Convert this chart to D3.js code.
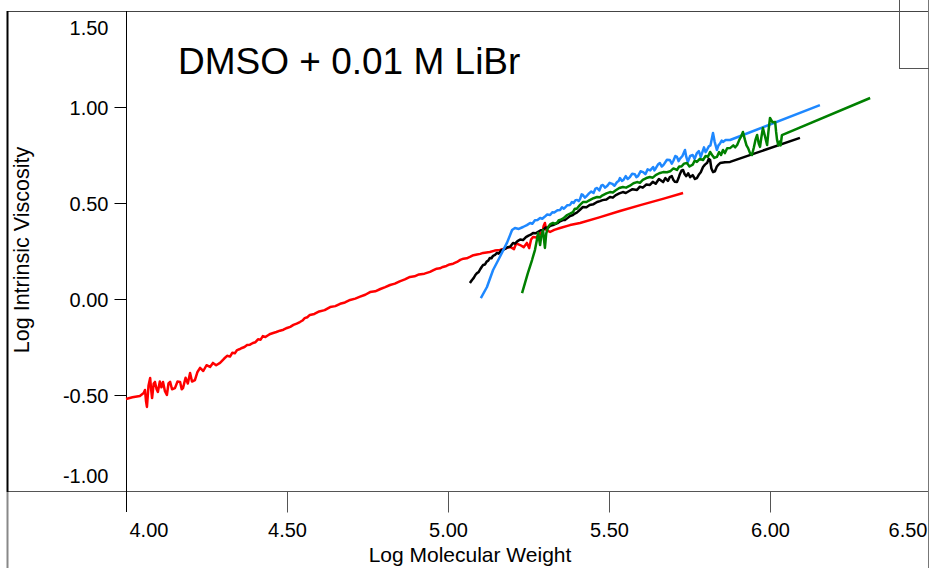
<!DOCTYPE html>
<meta charset="utf-8">
<style>
body { margin: 0; background: #fff; }
text { font-family: "Liberation Sans", Arial, sans-serif; fill: #000; }
</style>
<svg width="929" height="568"></svg>
<script src="https://cdn.jsdelivr.net/npm/d3@7/dist/d3.min.js"></script>
<script>
// Log MW vs Log [eta], four detectors / runs
var red = [[4.000,-0.521],[4.020,-0.512],[4.043,-0.505],[4.055,-0.49],[4.059,-0.474],[4.062,-0.53],[4.065,-0.562],[4.070,-0.45],[4.075,-0.411],[4.078,-0.47],[4.081,-0.516],[4.086,-0.44],[4.090,-0.432],[4.095,-0.47],[4.099,-0.484],[4.105,-0.43],[4.110,-0.46],[4.115,-0.432],[4.121,-0.48],[4.127,-0.50],[4.132,-0.44],[4.137,-0.432],[4.143,-0.47],[4.152,-0.464],[4.160,-0.43],[4.168,-0.432],[4.173,-0.47],[4.177,-0.464],[4.185,-0.41],[4.192,-0.44],[4.199,-0.385],[4.205,-0.43],[4.214,-0.422],[4.222,-0.38],[4.230,-0.359],[4.240,-0.375],[4.250,-0.345],[4.261,-0.354],[4.270,-0.333],[4.280,-0.345],[4.292,-0.333],[4.305,-0.31],[4.314,-0.296],[4.323,-0.30],[4.330,-0.28],[4.338,-0.283],[4.345,-0.266],[4.352,-0.262],[4.360,-0.255],[4.368,-0.25],[4.376,-0.240],[4.385,-0.238],[4.394,-0.229],[4.402,-0.225],[4.410,-0.21],[4.418,-0.212],[4.425,-0.193],[4.433,-0.198],[4.440,-0.19],[4.448,-0.182],[4.457,-0.177],[4.467,-0.172],[4.478,-0.165],[4.489,-0.16],[4.500,-0.151],[4.510,-0.145],[4.520,-0.135],[4.530,-0.128],[4.540,-0.120],[4.548,-0.112],[4.555,-0.10],[4.563,-0.095],[4.571,-0.083],[4.585,-0.078],[4.600,-0.065],[4.617,-0.058],[4.634,-0.042],[4.650,-0.037],[4.665,-0.025],[4.680,-0.018],[4.696,-0.005],[4.712,0.002],[4.727,0.012],[4.743,0.022],[4.758,0.036],[4.774,0.040],[4.790,0.052],[4.805,0.062],[4.820,0.073],[4.835,0.080],[4.850,0.092],[4.866,0.102],[4.882,0.115],[4.896,0.118],[4.910,0.128],[4.927,0.132],[4.944,0.141],[4.955,0.150],[4.965,0.158],[4.975,0.160],[4.984,0.167],[4.995,0.172],[5.005,0.18],[5.016,0.184],[5.028,0.193],[5.038,0.204],[5.048,0.21],[5.058,0.212],[5.068,0.219],[5.079,0.228],[5.090,0.232],[5.100,0.235],[5.109,0.240],[5.130,0.245],[5.145,0.252],[5.161,0.255],[5.175,0.262],[5.193,0.271],[5.205,0.26],[5.212,0.29],[5.224,0.281],[5.235,0.27],[5.245,0.292],[5.252,0.265],[5.258,0.31],[5.264,0.323],[5.275,0.32],[5.286,0.344],[5.292,0.33],[5.297,0.38],[5.301,0.396],[5.305,0.36],[5.317,0.349],[5.330,0.36],[5.348,0.370],[5.379,0.385],[5.410,0.396],[5.470,0.425],[5.534,0.458],[5.600,0.49],[5.670,0.523],[5.730,0.552]];

var black = [[5.068,0.083],[5.074,0.098],[5.080,0.11],[5.085,0.125],[5.090,0.135],[5.095,0.14],[5.100,0.155],[5.105,0.168],[5.109,0.177],[5.115,0.18],[5.120,0.195],[5.125,0.2],[5.130,0.214],[5.135,0.212],[5.140,0.225],[5.146,0.23],[5.152,0.240],[5.157,0.236],[5.162,0.245],[5.166,0.255],[5.171,0.255],[5.178,0.262],[5.185,0.27],[5.193,0.272],[5.202,0.292],[5.208,0.288],[5.215,0.30],[5.224,0.31],[5.233,0.307],[5.242,0.322],[5.250,0.33],[5.257,0.335],[5.264,0.344],[5.272,0.342],[5.280,0.35],[5.288,0.358],[5.295,0.359],[5.303,0.372],[5.310,0.37],[5.318,0.382],[5.326,0.385],[5.333,0.39],[5.340,0.395],[5.348,0.405],[5.357,0.411],[5.364,0.412],[5.370,0.42],[5.379,0.432],[5.388,0.4375],[5.394,0.445],[5.400,0.45],[5.410,0.465],[5.419,0.479],[5.430,0.478],[5.440,0.49],[5.452,0.494],[5.463,0.505],[5.472,0.51],[5.480,0.515],[5.492,0.518],[5.503,0.531],[5.512,0.528],[5.520,0.54],[5.532,0.55],[5.543,0.557],[5.552,0.552],[5.560,0.56],[5.573,0.572],[5.587,0.568],[5.596,0.585],[5.605,0.58],[5.616,0.596],[5.627,0.594],[5.636,0.61],[5.645,0.60],[5.655,0.625],[5.668,0.609],[5.675,0.63],[5.683,0.615],[5.689,0.635],[5.695,0.64],[5.700,0.62],[5.705,0.61],[5.711,0.609],[5.716,0.63],[5.720,0.65],[5.725,0.668],[5.730,0.672],[5.735,0.65],[5.740,0.64],[5.746,0.655],[5.752,0.635],[5.760,0.645],[5.767,0.625],[5.773,0.630],[5.780,0.65],[5.785,0.66],[5.792,0.6875],[5.798,0.70],[5.805,0.71],[5.810,0.73],[5.814,0.724],[5.818,0.68],[5.823,0.661],[5.829,0.665],[5.835,0.69],[5.840,0.70],[5.845,0.708],[5.860,0.712],[5.876,0.714],[6.093,0.839]];

var blue = [[5.102,0.005],[5.121,0.0625],[5.140,0.151],[5.161,0.219],[5.183,0.292],[5.199,0.359],[5.208,0.370],[5.220,0.365],[5.233,0.375],[5.245,0.385],[5.255,0.396],[5.262,0.392],[5.270,0.41],[5.278,0.412],[5.286,0.422],[5.293,0.418],[5.300,0.428],[5.308,0.44],[5.317,0.4375],[5.324,0.452],[5.330,0.45],[5.340,0.462],[5.348,0.464],[5.354,0.478],[5.360,0.47],[5.370,0.488],[5.379,0.490],[5.385,0.505],[5.390,0.50],[5.396,0.515],[5.401,0.516],[5.406,0.51],[5.410,0.52],[5.415,0.545],[5.419,0.542],[5.425,0.528],[5.430,0.535],[5.438,0.55],[5.445,0.56],[5.452,0.552],[5.458,0.575],[5.463,0.578],[5.470,0.565],[5.476,0.59],[5.481,0.594],[5.488,0.58],[5.495,0.59],[5.502,0.605],[5.510,0.60],[5.517,0.59],[5.525,0.609],[5.530,0.615],[5.534,0.630],[5.540,0.615],[5.545,0.62],[5.552,0.64],[5.558,0.625],[5.565,0.635],[5.572,0.652],[5.580,0.65],[5.585,0.635],[5.590,0.64],[5.598,0.665],[5.606,0.661],[5.613,0.65],[5.620,0.675],[5.628,0.67],[5.637,0.6875],[5.641,0.67],[5.645,0.68],[5.652,0.7],[5.658,0.708],[5.664,0.69],[5.670,0.70],[5.680,0.725],[5.689,0.724],[5.695,0.705],[5.700,0.72],[5.706,0.745],[5.711,0.740],[5.716,0.718],[5.720,0.73],[5.728,0.745],[5.736,0.776],[5.740,0.74],[5.745,0.714],[5.752,0.745],[5.760,0.75],[5.766,0.73],[5.773,0.760],[5.779,0.77],[5.785,0.74],[5.790,0.765],[5.795,0.79],[5.800,0.765],[5.804,0.776],[5.810,0.795],[5.815,0.80],[5.820,0.84],[5.823,0.865],[5.828,0.82],[5.835,0.776],[5.840,0.80],[5.845,0.81],[5.850,0.825],[5.854,0.818],[5.862,0.828],[5.876,0.828],[6.155,1.010]];

var green = [[5.230,0.031],[5.239,0.083],[5.248,0.135],[5.261,0.203],[5.270,0.255],[5.276,0.307],[5.280,0.344],[5.286,0.281],[5.290,0.33],[5.295,0.359],[5.301,0.266],[5.305,0.34],[5.311,0.375],[5.318,0.39],[5.326,0.396],[5.333,0.392],[5.340,0.40],[5.344,0.41],[5.348,0.411],[5.358,0.42],[5.370,0.4375],[5.379,0.445],[5.388,0.453],[5.394,0.47],[5.400,0.47],[5.410,0.49],[5.419,0.505],[5.430,0.505],[5.440,0.515],[5.452,0.525],[5.463,0.531],[5.472,0.53],[5.480,0.54],[5.492,0.55],[5.503,0.557],[5.512,0.555],[5.520,0.565],[5.532,0.578],[5.543,0.583],[5.553,0.58],[5.565,0.59],[5.576,0.603],[5.587,0.609],[5.596,0.605],[5.605,0.62],[5.616,0.63],[5.627,0.635],[5.636,0.632],[5.645,0.645],[5.656,0.655],[5.668,0.661],[5.680,0.66],[5.690,0.665],[5.700,0.68],[5.711,0.672],[5.718,0.69],[5.725,0.69],[5.733,0.705],[5.742,0.708],[5.750,0.69],[5.760,0.70],[5.766,0.72],[5.773,0.714],[5.782,0.73],[5.792,0.724],[5.800,0.745],[5.807,0.74],[5.814,0.766],[5.820,0.75],[5.827,0.735],[5.835,0.740],[5.842,0.765],[5.848,0.75],[5.854,0.776],[5.860,0.76],[5.867,0.785],[5.876,0.786],[5.886,0.80],[5.892,0.79],[5.898,0.802],[5.905,0.83],[5.910,0.845],[5.916,0.870],[5.922,0.83],[5.927,0.80],[5.932,0.786],[5.938,0.76],[5.944,0.75],[5.950,0.79],[5.955,0.83],[5.960,0.854],[5.965,0.81],[5.969,0.792],[5.973,0.84],[5.978,0.891],[5.984,0.85],[5.991,0.802],[5.995,0.87],[6.000,0.943],[6.008,0.92],[6.016,0.922],[6.019,0.87],[6.022,0.828],[6.026,0.80],[6.030,0.82],[6.033,0.80],[6.037,0.854],[6.311,1.047]];

var xTicks = [4.0, 4.5, 5.0, 5.5, 6.0, 6.5];
var yTicks = [-1.0, -0.5, 0.0, 0.5, 1.0, 1.5];
var title = "DMSO + 0.01 M LiBr";

var svg = d3.select("svg");

var x = d3.scaleLinear().domain([4, 6.5]).range([126, 931]);
var y = d3.scaleLinear().domain([-1, 1.5]).range([491, 11]);

var fmt = function(d) { return d.toFixed(2); };

// frame
svg.append("line").attr("x1", 7).attr("x2", 929).attr("y1", 11.5).attr("y2", 11.5)
    .attr("stroke", "#444").attr("stroke-width", 1);
svg.append("line").attr("x1", 7).attr("x2", 929).attr("y1", 491.5).attr("y2", 491.5)
    .attr("stroke", "#555").attr("stroke-width", 1);
svg.append("line").attr("x1", 7.5).attr("x2", 7.5).attr("y1", 11).attr("y2", 492)
    .attr("stroke", "#000").attr("stroke-width", 2);
svg.append("line").attr("x1", 7.5).attr("x2", 7.5).attr("y1", 492).attr("y2", 568)
    .attr("stroke", "#888").attr("stroke-width", 2);
svg.append("line").attr("x1", 928.5).attr("x2", 928.5).attr("y1", 0).attr("y2", 568)
    .attr("stroke", "#777").attr("stroke-width", 1);
svg.append("rect").attr("x", 899.5).attr("y", -1).attr("width", 32).attr("height", 69.5)
    .attr("fill", "none").attr("stroke", "#555").attr("stroke-width", 1);

// y axis
var yAxis = d3.axisLeft(y).tickValues(yTicks).tickSize(12).tickFormat(fmt);
var gy = svg.append("g").attr("transform", "translate(126.5,0)").call(yAxis);
gy.select(".domain").attr("d", "M0,11V512").attr("stroke", "#000");
gy.selectAll(".tick line").attr("stroke", function(d) { return (d === 1.5 || d === -1) ? "none" : "#000"; });
gy.selectAll(".tick text")
    .attr("x", -18)
    .attr("dy", function(d) { return d === 1.5 ? "1.15em" : d === -1 ? "-0.45em" : "0.35em"; })
    .style("font-size", "20px")
    .style("font-family", "'Liberation Sans', Arial, sans-serif")
    .attr("fill", "#000");

// x axis
var xAxis = d3.axisBottom(x).tickValues(xTicks).tickSize(21).tickFormat(fmt);
var gx = svg.append("g").attr("transform", "translate(0,491.5)").call(xAxis);
gx.select(".domain").remove();
gx.selectAll(".tick line").attr("stroke", function(d) { return (d === 4 || d === 6.5) ? "none" : "#555"; });
gx.selectAll(".tick text")
    .attr("y", 31)
    .attr("dy", "0.71em")
    .attr("text-anchor", function(d) { return d === 4 ? "start" : d === 6.5 ? "end" : "middle"; })
    .attr("dx", function(d) { return d === 4 ? 3 : d === 6.5 ? -4 : 0; })
    .style("font-size", "20px")
    .style("font-family", "'Liberation Sans', Arial, sans-serif")
    .attr("fill", "#000");

// axis titles
svg.append("text").attr("x", 470).attr("y", 562).attr("text-anchor", "middle")
    .style("font-size", "21px").text("Log Molecular Weight");
svg.append("text").attr("transform", "translate(29,250) rotate(-90)").attr("text-anchor", "middle")
    .style("font-size", "21.5px").text("Log Intrinsic Viscosity");

// title
svg.append("text").attr("x", 178).attr("y", 74).style("font-size", "37px").text(title);

// series
var line = d3.line().x(function(d) { return x(d[0]); }).y(function(d) { return y(d[1]); });
var series = [
  {data: red, color: "#ff0000"},
  {data: black, color: "#000000"},
  {data: blue, color: "#1e88ff"},
  {data: green, color: "#008000"}
];
svg.selectAll(".series").data(series).enter().append("path")
    .attr("class", "series")
    .attr("d", function(d) { return line(d.data); })
    .attr("fill", "none")
    .attr("stroke", function(d) { return d.color; })
    .attr("stroke-width", 2.5)
    .attr("stroke-linejoin", "round");
</script>
